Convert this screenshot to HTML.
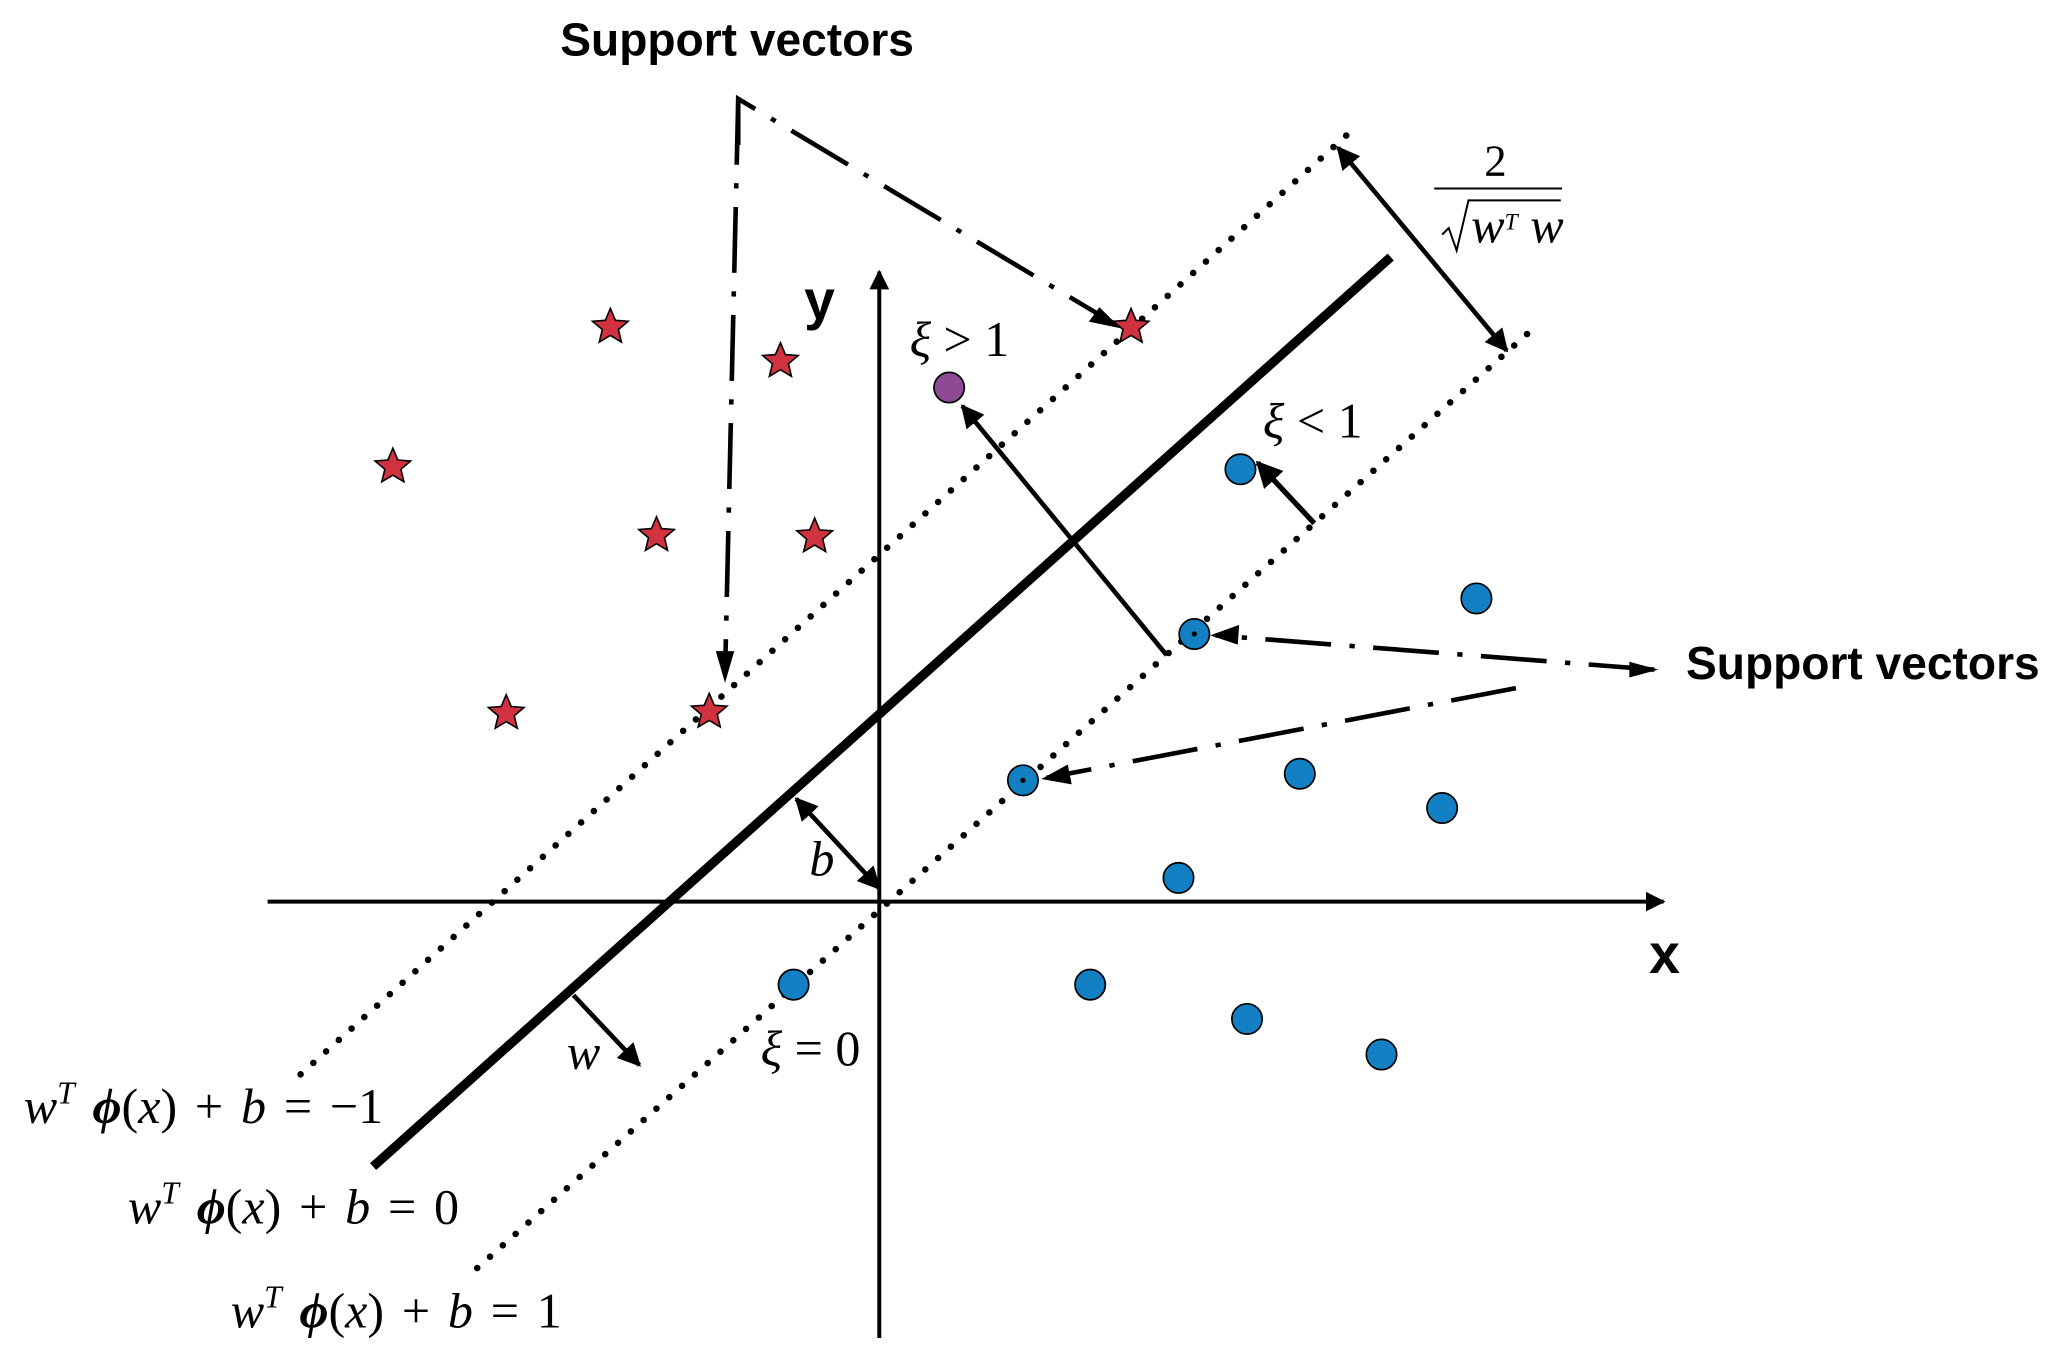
<!DOCTYPE html>
<html><head><meta charset="utf-8"><style>
html,body{margin:0;padding:0;background:#fff;}
svg{display:block;}
.m{font-family:"Liberation Serif",serif;font-style:italic;font-size:38px;}
.e{font-family:"Liberation Serif",serif;font-style:italic;font-size:38px;word-spacing:4px;}
.s{font-family:"Liberation Serif",serif;font-size:34px;}
.b{font-family:"Liberation Sans",sans-serif;font-weight:bold;}
</style></head><body>
<svg width="2067" height="1363" viewBox="0 0 1568 1034" xmlns="http://www.w3.org/2000/svg">
<defs>
<marker id="a" viewBox="0 0 10 10" refX="9" refY="5" markerWidth="5" markerHeight="5" orient="auto-start-reverse"><path d="M0,0 L10,5 L0,10 z" fill="#000"/></marker>
<g id="st"><polygon points="0,-14 3.8,-5 13.5,-4.3 6.1,2 8.4,11.5 0,6.5 -8.4,11.5 -6.1,2 -13.5,-4.3 -3.8,-5" fill="#d1323f" stroke="#000" stroke-width="1.2"/></g>
</defs>
<rect width="1568" height="1034" fill="#fff"/>
<line x1="203" y1="684" x2="1262" y2="684" stroke="#000" stroke-width="3" marker-end="url(#a)"/>
<line x1="667" y1="1015" x2="667" y2="206" stroke="#000" stroke-width="3" marker-end="url(#a)"/>
<text x="610" y="242" class="b" font-size="42">y</text>
<text x="1251" y="738" class="b" font-size="42">x</text>
<line x1="283" y1="885" x2="1055" y2="195" stroke="#000" stroke-width="7"/>
<line x1="228" y1="815" x2="1030" y2="95" stroke="#000" stroke-width="5" stroke-dasharray="0 13" stroke-linecap="round"/>
<line x1="362" y1="962" x2="1160" y2="252" stroke="#000" stroke-width="5" stroke-dasharray="0 13" stroke-linecap="round"/>
<line x1="1015" y1="112" x2="1143" y2="266" stroke="#000" stroke-width="3.5" marker-start="url(#a)" marker-end="url(#a)"/>
<text x="1126" y="133" class="s" font-size="28">2</text>
<line x1="1088" y1="143" x2="1185" y2="143" stroke="#000" stroke-width="1.5"/>
<path d="M1094,178 L1099,173 L1105,190 L1114,152 L1184,152" fill="none" stroke="#000" stroke-width="1.5"/>
<text x="1116" y="184" class="m" font-size="26">w<tspan font-size="18" dy="-10">T</tspan><tspan dy="10"> w</tspan></text>
<use href="#st" x="463" y="248"/><use href="#st" x="592" y="274"/><use href="#st" x="298" y="354"/>
<use href="#st" x="498" y="406"/><use href="#st" x="618" y="407"/><use href="#st" x="384" y="541"/>
<use href="#st" x="538" y="540"/><use href="#st" x="858" y="248"/>
<g fill="#1480c4" stroke="#000" stroke-width="1.3">
<circle cx="941" cy="356" r="11.5"/><circle cx="1120" cy="454" r="11.5"/><circle cx="906" cy="481" r="11.5"/>
<circle cx="776" cy="592" r="11.5"/><circle cx="986" cy="587" r="11.5"/><circle cx="1094" cy="613" r="11.5"/>
<circle cx="894" cy="666" r="11.5"/><circle cx="602" cy="747" r="11.5"/><circle cx="827" cy="747" r="11.5"/>
<circle cx="946" cy="773" r="11.5"/><circle cx="1048" cy="800" r="11.5"/>
</g>
<circle cx="906" cy="481" r="2" fill="#000"/><circle cx="776" cy="592" r="2" fill="#000"/>
<circle cx="720" cy="294" r="11.5" fill="#8e4a94" stroke="#000" stroke-width="1.3"/>
<line x1="885" y1="497" x2="730" y2="308" stroke="#000" stroke-width="3.5" marker-end="url(#a)"/>
<line x1="997" y1="397" x2="954" y2="351" stroke="#000" stroke-width="4" marker-end="url(#a)"/>
<line x1="604" y1="606" x2="667" y2="674" stroke="#000" stroke-width="3.5" marker-start="url(#a)" marker-end="url(#a)"/>
<line x1="435" y1="755" x2="485" y2="808" stroke="#000" stroke-width="3.5" marker-end="url(#a)"/>
<g fill="none" stroke="#000" stroke-width="3.5" stroke-dasharray="50 14 4 14">
<path d="M560,110 L560,75 L846,246"/>
<path d="M560,75 L550,512"/>
<path d="M1255,508 L922,482"/>
<path d="M1150,522 L794,590"/>
</g>
<g fill="#000">
<polygon points="850,249 826,244 834,233"/>
<polygon points="550,518 543,494 557,494"/>
<polygon points="918,482 940,474 939,489"/>
<polygon points="790,591 810,580 813,595"/>
<polygon points="1258,508 1236,502 1236,514"/>
</g>
<text x="425" y="42" class="b" font-size="35">Support vectors</text>
<text x="1279" y="515" class="b" font-size="35">Support vectors</text>
<text x="690" y="270" class="m">ξ <tspan font-style="normal">&gt; 1</tspan></text>
<text x="958" y="332" class="m">ξ <tspan font-style="normal">&lt; 1</tspan></text>
<text x="577" y="808" class="m">ξ <tspan font-style="normal">= 0</tspan></text>
<text x="614" y="664" class="m">b</text>
<text x="430" y="811" class="m">w</text>
<text x="18" y="852" class="e">w<tspan font-size="24" dy="-15">T</tspan><tspan dy="15" font-weight="bold"> ϕ</tspan><tspan font-style="normal">(</tspan>x<tspan font-style="normal">) + </tspan>b<tspan font-style="normal"> = −1</tspan></text>
<text x="97" y="928" class="e">w<tspan font-size="24" dy="-15">T</tspan><tspan dy="15" font-weight="bold"> ϕ</tspan><tspan font-style="normal">(</tspan>x<tspan font-style="normal">) + </tspan>b<tspan font-style="normal"> = 0</tspan></text>
<text x="175" y="1007" class="e">w<tspan font-size="24" dy="-15">T</tspan><tspan dy="15" font-weight="bold"> ϕ</tspan><tspan font-style="normal">(</tspan>x<tspan font-style="normal">) + </tspan>b<tspan font-style="normal"> = 1</tspan></text>
</svg>
</body></html>
